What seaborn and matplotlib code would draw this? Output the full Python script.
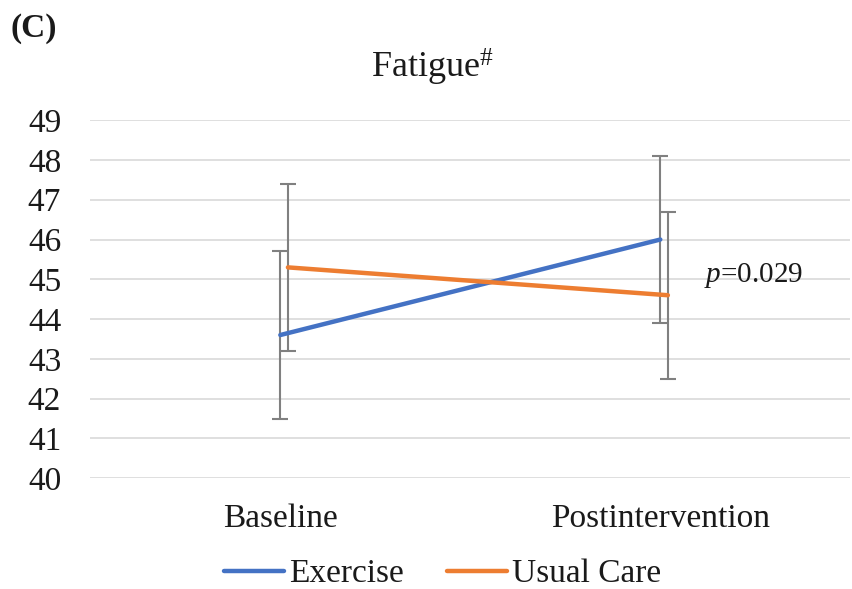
import numpy as np
import pandas as pd
import matplotlib
matplotlib.use('Agg')
import matplotlib.pyplot as plt
import seaborn as sns

# Dados
momentos = ['Baseline', 'Postintervention']
grupos = ['Exercise', 'Usual Care']
media_exercise = [43.6, 46.0]
media_usual = [45.3, 44.6]
dp_exercise = [2.1, 2.1]
dp_usual = [2.1, 2.1]
cores = ['#4472C4', '#ED7D31']
deslocamento = [0.0, 0.02]

sns.set_theme(style='white')
plt.rcParams['font.family'] = ['Liberation Serif', 'DejaVu Serif']
plt.rcParams['mathtext.fontset'] = 'custom'
plt.rcParams['mathtext.rm'] = 'Liberation Serif'
plt.rcParams['mathtext.it'] = 'Liberation Serif:italic'
plt.rcParams['text.color'] = '#1a1a1a'
plt.rcParams['xtick.color'] = '#1a1a1a'
plt.rcParams['ytick.color'] = '#1a1a1a'

df = pd.DataFrame({
    'pos': [i + deslocamento[g] for g in range(2) for i in range(len(momentos))],
    'valor': media_exercise + media_usual,
    'dp': dp_exercise + dp_usual,
    'grupo': [grupos[g] for g in range(2) for _ in momentos],
})

fig = plt.figure(figsize=(8.52, 5.89), dpi=100)
ax = fig.add_axes([0.106, 0.188, 0.892, 0.608])

# Barras de erro (cinza)
for _, linha in df.iterrows():
    ax.errorbar(linha['pos'], linha['valor'], yerr=linha['dp'], fmt='none',
                ecolor='#808080', elinewidth=1.5, capsize=6, capthick=1.5, zorder=2)

sns.lineplot(data=df, x='pos', y='valor', hue='grupo', palette=cores,
             linewidth=3.2, ax=ax, zorder=3, estimator=None, sort=False)

ax.set_xlim(-0.5, 1.5)
ax.set_ylim(40, 49)
ax.set_yticks(np.arange(40, 50, 1))
ax.set_xticks(range(len(momentos)))
ax.set_xticklabels(momentos)
ax.tick_params(axis='both', labelsize=24, length=0)
ax.tick_params(axis='x', pad=18)
ax.tick_params(axis='y', pad=21)
ax.yaxis.grid(True, color='#d9d9d9', linewidth=1.2)
ax.xaxis.grid(False)
for s in ax.spines.values():
    s.set_visible(False)
ax.set_xlabel('')
ax.set_ylabel('')

ax.text(1.115, 45.1, '$p$=0.029', fontsize=21, ha='left', va='center')

fig.text(0.508, 0.885, 'Fatigue$^{\\#}$', fontsize=26, ha='center', va='center')
fig.text(0.012, 0.952, '(C)', fontsize=24, fontweight='bold', ha='left', va='center')

leg = ax.legend(loc='center', bbox_to_anchor=(0.463, -0.268), ncol=2, frameon=False,
                fontsize=24, handlelength=1.8, handletextpad=0.15, columnspacing=1.3,
                borderpad=0.1)
for l in leg.get_lines():
    l.set_linewidth(3.2)

fig.savefig('out.png', dpi=100)
